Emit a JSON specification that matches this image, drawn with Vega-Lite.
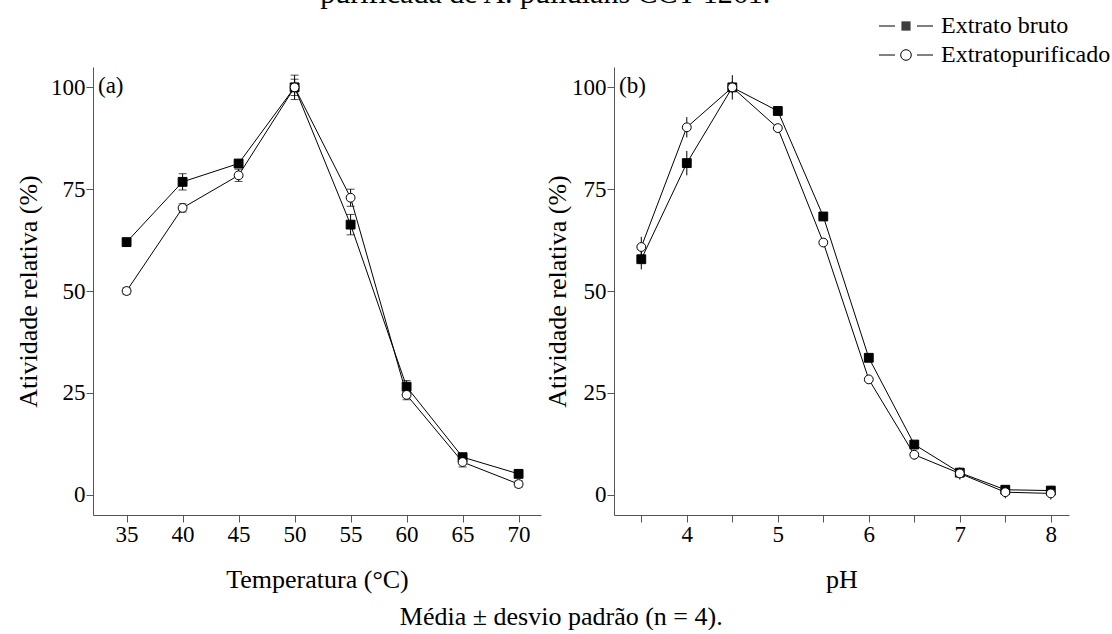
{
  "$schema": "https://vega.github.io/schema/vega-lite/v6.json",
  "background": "white",
  "padding": {"left": 15, "top": -21, "right": 0, "bottom": 0},
  "config": {
    "font": "Liberation Serif",
    "view": {"stroke": null},
    "axis": {"domainColor": "#555", "tickColor": "#555", "labelColor": "black", "titleColor": "black", "labelFontSize": 23, "titleFontSize": 26, "titleFontWeight": "normal", "tickSize": 7, "labelPadding": 1, "grid": false, "labelFont": "Liberation Serif", "titleFont": "Liberation Serif", "labelFlush": false},
    "legend": {"labelFont": "Liberation Serif"},
    "title": {"font": "Liberation Serif", "fontWeight": "normal", "color": "black"}
  },
  "datasets": {
    "temp": [
      {"temperatura": 35, "serie": "Extrato bruto", "atividade": 62.0, "dp": 0.8},
      {"temperatura": 40, "serie": "Extrato bruto", "atividade": 76.8, "dp": 2.0},
      {"temperatura": 45, "serie": "Extrato bruto", "atividade": 81.3, "dp": 0.8},
      {"temperatura": 50, "serie": "Extrato bruto", "atividade": 100.0, "dp": 2.0},
      {"temperatura": 55, "serie": "Extrato bruto", "atividade": 66.3, "dp": 2.5},
      {"temperatura": 60, "serie": "Extrato bruto", "atividade": 26.5, "dp": 1.5},
      {"temperatura": 65, "serie": "Extrato bruto", "atividade": 9.2, "dp": 0.8},
      {"temperatura": 70, "serie": "Extrato bruto", "atividade": 5.1, "dp": 0.5},
      {"temperatura": 35, "serie": "Extratopurificado", "atividade": 50.0, "dp": 0.8},
      {"temperatura": 40, "serie": "Extratopurificado", "atividade": 70.4, "dp": 1.0},
      {"temperatura": 45, "serie": "Extratopurificado", "atividade": 78.4, "dp": 1.5},
      {"temperatura": 50, "serie": "Extratopurificado", "atividade": 100.0, "dp": 3.0},
      {"temperatura": 55, "serie": "Extratopurificado", "atividade": 72.9, "dp": 2.1},
      {"temperatura": 60, "serie": "Extratopurificado", "atividade": 24.5, "dp": 1.2},
      {"temperatura": 65, "serie": "Extratopurificado", "atividade": 8.0, "dp": 1.2},
      {"temperatura": 70, "serie": "Extratopurificado", "atividade": 2.6, "dp": 0.8}
    ],
    "ph": [
      {"pH": 3.5, "serie": "Extrato bruto", "atividade": 57.8, "dp": 2.5},
      {"pH": 4.0, "serie": "Extrato bruto", "atividade": 81.4, "dp": 3.0},
      {"pH": 4.5, "serie": "Extrato bruto", "atividade": 100.0, "dp": 1.5},
      {"pH": 5.0, "serie": "Extrato bruto", "atividade": 94.2, "dp": 1.0},
      {"pH": 5.5, "serie": "Extrato bruto", "atividade": 68.3, "dp": 1.0},
      {"pH": 6.0, "serie": "Extrato bruto", "atividade": 33.6, "dp": 1.0},
      {"pH": 6.5, "serie": "Extrato bruto", "atividade": 12.3, "dp": 1.0},
      {"pH": 7.0, "serie": "Extrato bruto", "atividade": 5.4, "dp": 1.0},
      {"pH": 7.5, "serie": "Extrato bruto", "atividade": 1.2, "dp": 0.8},
      {"pH": 8.0, "serie": "Extrato bruto", "atividade": 1.0, "dp": 0.8},
      {"pH": 3.5, "serie": "Extratopurificado", "atividade": 60.8, "dp": 2.5},
      {"pH": 4.0, "serie": "Extratopurificado", "atividade": 90.2, "dp": 2.5},
      {"pH": 4.5, "serie": "Extratopurificado", "atividade": 100.0, "dp": 3.0},
      {"pH": 5.0, "serie": "Extratopurificado", "atividade": 90.0, "dp": 1.0},
      {"pH": 5.5, "serie": "Extratopurificado", "atividade": 61.9, "dp": 1.0},
      {"pH": 6.0, "serie": "Extratopurificado", "atividade": 28.3, "dp": 0.8},
      {"pH": 6.5, "serie": "Extratopurificado", "atividade": 9.8, "dp": 1.2},
      {"pH": 7.0, "serie": "Extratopurificado", "atividade": 5.2, "dp": 1.5},
      {"pH": 7.5, "serie": "Extratopurificado", "atividade": 0.6, "dp": 1.5},
      {"pH": 8.0, "serie": "Extratopurificado", "atividade": 0.3, "dp": 1.5}
    ]
  },
  "title": {"text": "Média ± desvio padrão (n = 4).", "orient": "bottom", "anchor": "middle", "fontSize": 26, "offset": 12, "dx": -2},
  "vconcat": [
    {
      "title": {"text": "purificada de A. pullulans CCT 1261.", "orient": "top", "anchor": "middle", "fontSize": 30, "baseline": "alphabetic", "offset": 34, "dx": 3},
      "hconcat": [
        {
          "width": 448,
          "height": 448,
          "title": {"text": "(a)", "anchor": "start", "frame": "group", "offset": -49, "baseline": "alphabetic", "fontSize": 23, "dx": 5},
          "data": {"name": "temp"},
          "encoding": {
            "x": {"field": "temperatura", "type": "quantitative", "scale": {"domain": [32, 72], "nice": false}, "axis": {"values": [35, 40, 45, 50, 55, 60, 65, 70], "title": "Temperatura (°C)", "titlePadding": 20}},
            "y": {"field": "atividade", "type": "quantitative", "scale": {"domain": [-5, 105], "nice": false}, "axis": {"values": [0, 25, 50, 75, 100], "title": "Atividade relativa (%)", "titlePadding": 9}}
          },
          "layer": [
            {
              "mark": {"type": "line", "color": "black", "strokeWidth": 1},
              "encoding": {"detail": {"field": "serie"}}
            },
            {
              "mark": {"type": "errorbar", "ticks": {"size": 8, "thickness": 1, "color": "black"}, "thickness": 1, "color": "black"},
              "encoding": {"yError": {"field": "dp"}, "detail": {"field": "serie"}}
            },
            {
              "mark": {"type": "point", "filled": false, "color": "black", "strokeWidth": 1, "opacity": 0},
              "encoding": {
                "shape": {
                  "field": "serie", "type": "nominal",
                  "scale": {"domain": ["Extrato bruto", "Extratopurificado"], "range": [
                    "M-5.4,0H-2.2M2.2,0H5.4M-0.9,-0.8H0.9M-0.9,-0.6H0.9M-0.9,-0.4H0.9M-0.9,-0.2H0.9M-0.9,0H0.9M-0.9,0.2H0.9M-0.9,0.4H0.9M-0.9,0.6H0.9M-0.9,0.8H0.9",
                    "M-5.4,0H-2.2M2.2,0H5.4M1.06,0A1.06,1.06 0 1,1 -1.06,0A1.06,1.06 0 1,1 1.06,0"
                  ]},
                  "legend": {
                    "title": null, "orient": "none", "legendX": 801, "legendY": -53,
                    "labelFontSize": 24, "labelFont": "Liberation Serif", "labelColor": "black", "labelLimit": 400,
                    "symbolSize": 100, "symbolStrokeColor": "black", "symbolStrokeWidth": 1, "symbolOpacity": 1,
                    "labelOffset": 23, "rowPadding": 5, "padding": 0
                  }
                }
              }
            },
            {
              "transform": [{"filter": "datum.serie === 'Extrato bruto'"}],
              "mark": {"type": "point", "shape": "square", "filled": true, "fill": "black", "size": 78, "stroke": "black", "strokeWidth": 1, "opacity": 1}
            },
            {
              "transform": [{"filter": "datum.serie === 'Extratopurificado'"}],
              "mark": {"type": "point", "shape": "circle", "filled": true, "fill": "white", "size": 78, "stroke": "black", "strokeWidth": 1, "opacity": 1}
            }
          ]
        },
        {
          "width": 455,
          "height": 448,
          "title": {"text": "(b)", "anchor": "start", "frame": "group", "offset": -49, "baseline": "alphabetic", "fontSize": 23, "dx": 5},
          "data": {"name": "ph"},
          "encoding": {
            "x": {"field": "pH", "type": "quantitative", "scale": {"domain": [3.2, 8.2], "nice": false}, "axis": {"values": [3.5, 4, 4.5, 5, 5.5, 6, 6.5, 7, 7.5, 8], "labelExpr": "datum.value % 1 === 0 ? datum.value : ''", "title": "pH", "titlePadding": 20}},
            "y": {"field": "atividade", "type": "quantitative", "scale": {"domain": [-5, 105], "nice": false}, "axis": {"values": [0, 25, 50, 75, 100], "title": "Atividade relativa (%)", "titlePadding": 1}}
          },
          "layer": [
            {
              "mark": {"type": "line", "color": "black", "strokeWidth": 1},
              "encoding": {"detail": {"field": "serie"}}
            },
            {
              "mark": {"type": "errorbar", "ticks": false, "thickness": 1, "color": "black"},
              "encoding": {"yError": {"field": "dp"}, "detail": {"field": "serie"}}
            },
            {
              "transform": [{"filter": "datum.serie === 'Extrato bruto'"}],
              "mark": {"type": "point", "shape": "square", "filled": true, "fill": "black", "size": 78, "stroke": "black", "strokeWidth": 1, "opacity": 1}
            },
            {
              "transform": [{"filter": "datum.serie === 'Extratopurificado'"}],
              "mark": {"type": "point", "shape": "circle", "filled": true, "fill": "white", "size": 78, "stroke": "black", "strokeWidth": 1, "opacity": 1}
            }
          ]
        }
      ],
      "spacing": 3
    }
  ]
}
